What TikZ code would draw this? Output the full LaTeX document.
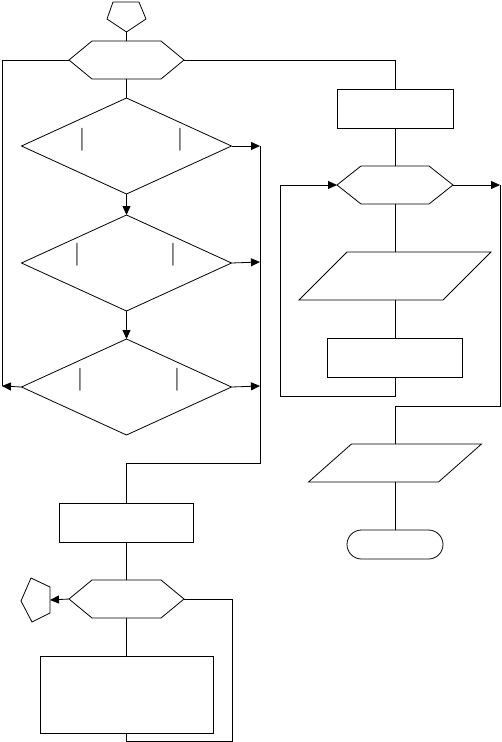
\documentclass[tikz,border=0pt]{standalone}
\usepackage{fontspec}
\usepackage{tikz}
\usetikzlibrary{shapes.geometric, shapes.misc, arrows.meta, positioning, calc}
% outlines for the hexagon and parallelogram boxes
\newcommand{\hexline}[2]{%
  \draw (#1.west) -- ($(#1.north west)+(#2,0)$) -- ($(#1.north east)-(#2,0)$)
    -- (#1.east) -- ($(#1.south east)-(#2,0)$) -- ($(#1.south west)+(#2,0)$) -- cycle;}
\newcommand{\paraline}[2]{%
  \draw ($(#1.north west)+(#2,0)$) -- (#1.north east)
    -- ($(#1.south east)-(#2,0)$) -- (#1.south west) -- cycle;}

\begin{document}
\begin{tikzpicture}[
    x=1pt, y=-1pt,
    line width=0.8pt,
    every node/.style={outer sep=0pt},
    box/.style={draw, rectangle, minimum width=#1, minimum height=39pt, inner sep=0pt},
    hexbox/.style={rectangle, minimum width=#1, minimum height=38pt, inner sep=0pt},
    parabox/.style={rectangle, minimum width=#1, inner sep=0pt},
    decision/.style={draw, diamond, minimum width=210pt, minimum height=96pt, inner sep=0pt},
    terminal/.style={draw, rounded rectangle, minimum width=96pt, minimum height=29pt, inner sep=0pt},
    bar/.style={inner sep=0pt, font=\fontsize{23}{23}\selectfont},
    arrow/.style={-{Triangle[length=9pt, width=8pt]}},
]
    \useasboundingbox (0,0) rectangle (502,742);

    % left column
    \draw (113,2) -- (139,2) -- (146,19) -- (126.5,32) -- (107,19) -- cycle;
    \coordinate (startP) at (126.5,32);
    \node[hexbox=115pt] (scanhex) at (126.5,60) {};
    \node[decision, below=19pt of scanhex] (testA) {};
    \node[decision, below=21pt of testA] (testB) {};
    \node[decision, below=28pt of testB] (testC) {};
    \node[box=134pt, below=68pt of testC] (initbox) {};
    \node[hexbox=115pt, below=38pt of initbox] (loophex) {};
    \node[box=173pt, minimum height=77pt, below=38pt of loophex] (bodybox) {};
    \draw (50,587) -- (31,578) -- (21,601) -- (32,622) -- (50,613) -- cycle;
    \coordinate (endP) at (50,600);
    \hexline{scanhex}{23}
    \hexline{loophex}{23}

    \node[bar] at (82,139.5) {|};
    \node[bar] at (180,139.5) {|};
    \node[bar] at (77,254.5) {|};
    \node[bar] at (173,254.5) {|};
    \node[bar] at (80,379.5) {|};
    \node[bar] at (177,379.5) {|};

    % right column
    \node[box=116pt] (setbox) at (395,108.5) {};
    \node[hexbox=116pt, below=38pt of setbox] (rephex) {};
    \node[parabox=192pt, minimum height=48pt, below=48pt of rephex] (readpar) {};
    \node[box=135pt, below=38pt of readpar] (calcbox) {};
    \node[parabox=173pt, minimum height=38pt, below=67pt of calcbox] (outpar) {};
    \node[terminal, below=48pt of outpar] (stopnode) {};
    \hexline{rephex}{24}
    \paraline{readpar}{48}
    \paraline{outpar}{43}

    \coordinate (leftbus) at (2,386);
    \coordinate (busA) at (260,146);
    \coordinate (busB) at (260,262);
    \coordinate (busC) at (260,386);
    \coordinate (busEnd) at (260,463);
    \coordinate (backR) at (232,741);
    \coordinate (loopL) at (280,396);
    \coordinate (exitR) at (500,185);
    \coordinate (exitEnd) at (500,406);

    \draw (startP) -- (scanhex.north);
    \draw (scanhex.south) -- (testA.north);
    \draw[arrow] (testA.south) -- (testB.north);
    \draw[arrow] (testB.south) -- (testC.north);
    \draw (scanhex.west) -| (leftbus);
    \draw[arrow] (testC.west) -- (leftbus);
    \draw[arrow] (testA.east) -- (busA);
    \draw[arrow] (testB.east) -- (busB);
    \draw[arrow] (testC.east) -- (busC);
    \draw (busA) -- (busEnd) -| (initbox.north);
    \draw (initbox.south) -- (loophex.north);
    \draw[arrow] (loophex.west) -- (endP);
    \draw (loophex.south) -- (bodybox.north);
    \draw (loophex.east) -| (backR) -| (bodybox.south);

    \draw (scanhex.east) -| (setbox.north);
    \draw (setbox.south) -- (rephex.north);
    \draw (rephex.south) -- (readpar.north);
    \draw (readpar.south) -- (calcbox.north);
    \draw[arrow] (calcbox.south) |- (loopL) |- (rephex.west);
    \draw[arrow] (rephex.east) -- (exitR);
    \draw (exitR) -- (exitEnd) -| (outpar.north);
    \draw (outpar.south) -- (stopnode.north);
\end{tikzpicture}
\end{document}
